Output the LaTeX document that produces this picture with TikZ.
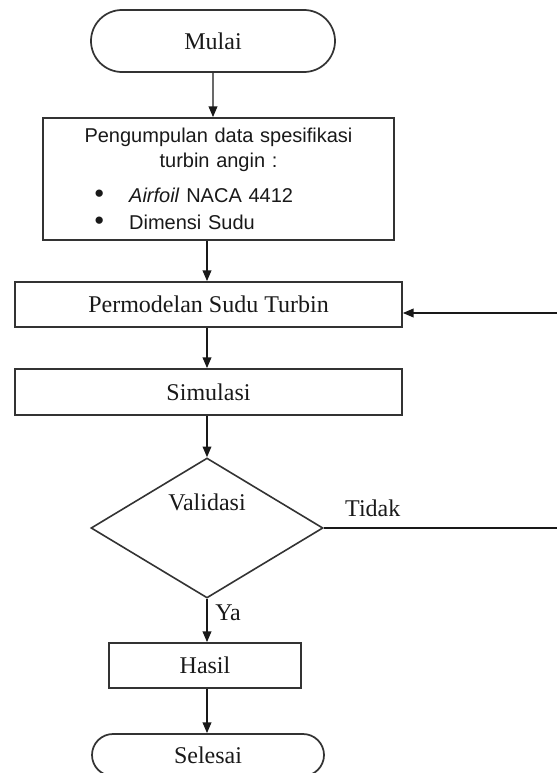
\documentclass[tikz,border=0pt]{standalone}
\usepackage{fontspec}
\setmainfont{Liberation Serif}
\setsansfont{Liberation Sans}
\usetikzlibrary{shapes.geometric,shapes.misc,arrows.meta}

\begin{document}
\begin{tikzpicture}[x=0.75pt,y=-0.75pt]
\tikzset{every node/.style={text=black!90}}
\tikzset{proc/.style={draw=black!80,line width=1.3pt,rectangle,inner sep=0pt,font=\fontsize{18}{22}\selectfont}}
\tikzset{term/.style={proc,rounded rectangle}}
\tikzset{decide/.style={draw=black!80,line width=1.2pt,diamond,inner sep=0pt,minimum width=174pt,minimum height=105pt}}
\tikzset{lbl/.style={inner sep=0pt,font=\fontsize{18}{22}\selectfont}}
\tikzset{arr/.style={draw=black!90,line width=1.1pt,-{Triangle[length=8pt,width=6.5pt]}}}
\newcommand{\itembul}{\hspace*{32pt}\makebox[26pt][l]{\fontsize{20}{18}\selectfont\textbullet}}
\useasboundingbox (0,0) rectangle (556,773);
% boxes
\node[term,minimum width=183pt,minimum height=46.5pt] (mulai) at (213,41) {Mulai};
\node[proc,font=\sffamily\fontsize{15}{18.75}\selectfont,text width=250pt,minimum width=263.25pt,minimum height=91.5pt,align=left] (data) at (218.5,179)
  {{\centering Pengumpulan data spesifikasi\\turbin angin :\par}\vspace{7.5pt}
   \itembul\textit{Airfoil} NACA 4412\\[1.5pt]
   \itembul Dimensi Sudu};
\node[proc,minimum width=290.25pt,minimum height=33.75pt] (model) at (208.5,304.5) {Permodelan Sudu Turbin};
\node[proc,minimum width=290.25pt,minimum height=34.5pt] (sim) at (208.5,392) {Simulasi};
\node[decide] (valid) at (207,528) {};
\node[lbl] (validtxt) at ([yshift=19.5pt]valid.center) {Validasi};
\node[proc,minimum width=144pt,minimum height=33.75pt] (hasil) at (205,665.5) {Hasil};
\node[term,minimum width=174pt,minimum height=31.5pt] (selesai) at (208,755) {Selesai};
% loop back
\coordinate (out) at (558,528);
\coordinate (back) at (558,313);
% arrows
\draw[arr] (mulai) -- (mulai.south |- data.north);
\draw[arr] (data.south -| valid.north) -- (valid.north |- model.north);
\draw[arr] (model.south -| valid.north) -- (valid.north |- sim.north);
\draw[arr] (sim.south -| valid.north) -- (valid.north);
\draw[arr] (valid.south) -- (valid.south |- hasil.north);
\draw[arr] (hasil.south -| valid.south) -- (valid.south |- selesai.north);
\draw[arr] (valid.east) -- (out) -- (back) -- (back -| model.east);
\node[lbl] (tidak) at ([xshift=36.75pt,yshift=15pt]valid.east) {Tidak};
\node[lbl,anchor=west] (ya) at ([xshift=6pt,yshift=-10.5pt]valid.south) {Ya};
\end{tikzpicture}
\end{document}
